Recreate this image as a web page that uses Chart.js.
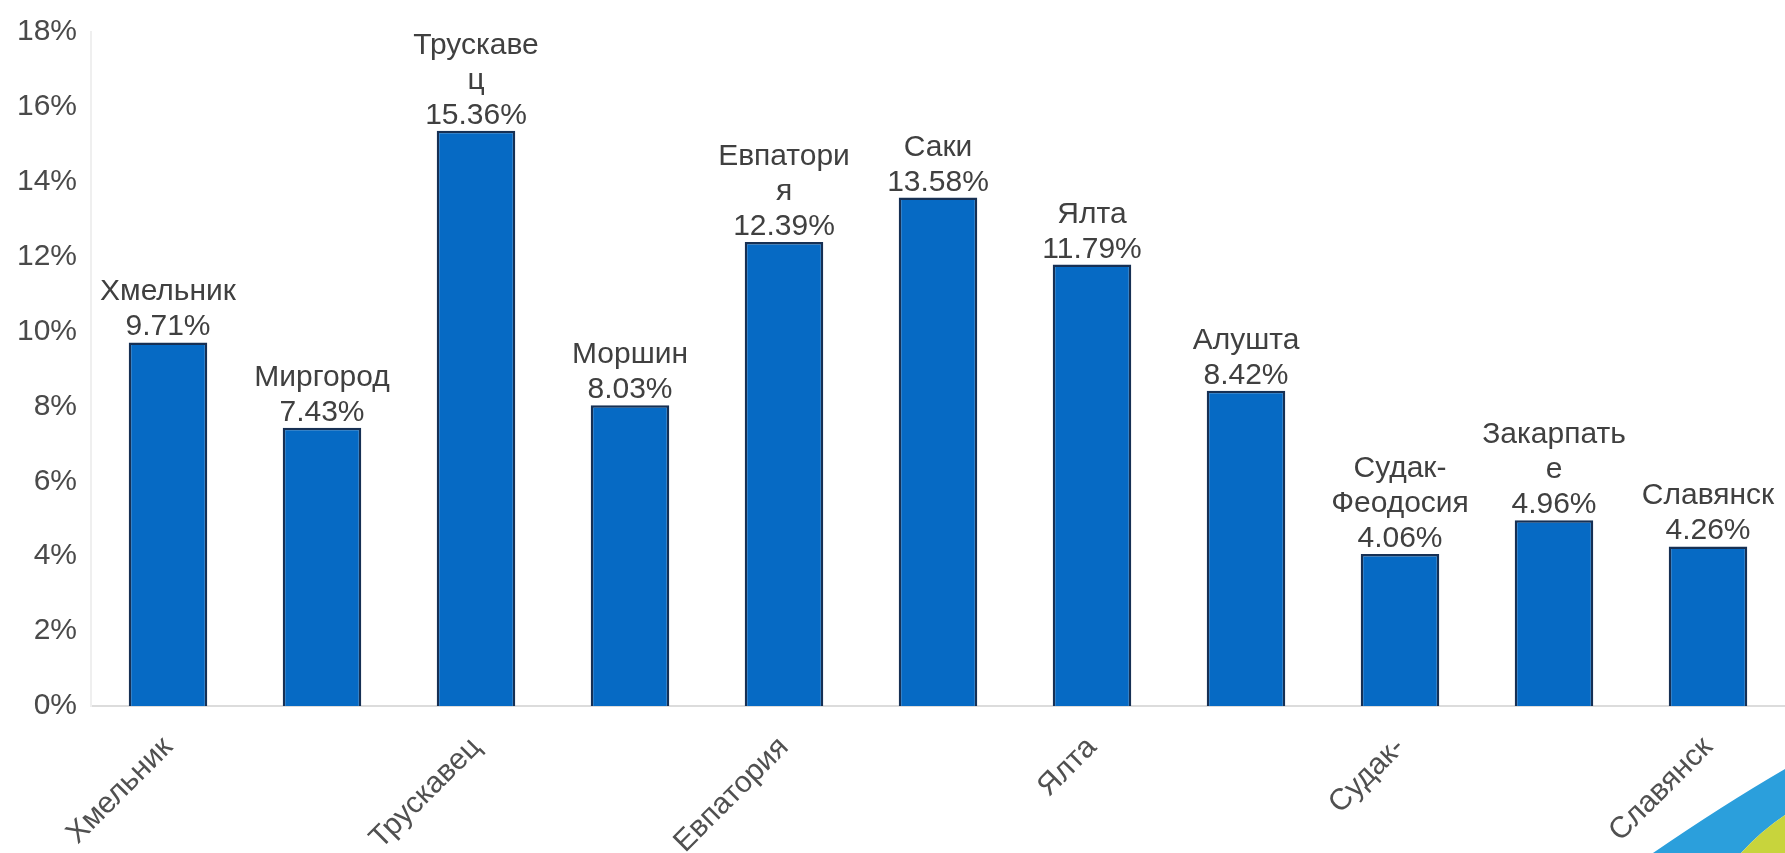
<!DOCTYPE html>
<html>
<head>
<meta charset="utf-8">
<script src="https://cdn.jsdelivr.net/npm/chart.js@4.4.1/dist/chart.umd.min.js"></script>
<style>
  body { margin:0; background:#fff; }
  canvas { display:block; }
</style>
</head>
<body>
<canvas id="resortChart" width="1785" height="853"></canvas>
<script>
// курорты и доли
const categories = ['Хмельник','Миргород','Трускавец','Моршин','Евпатория','Саки','Ялта','Алушта','Судак-Феодосия','Закарпатье','Славянск'];
const shares = [9.71, 7.43, 15.36, 8.03, 12.39, 13.58, 11.79, 8.42, 4.06, 4.96, 4.26];
// подписи оси X (каждая вторая)
const tickLabels = ['Хмельник','','Трускавец','','Евпатория','','Ялта','','Судак-','','Славянск'];
// подписи над столбцами (перенос как на картинке)
const barNameLines = [['Хмельник'],['Миргород'],['Трускаве','ц'],['Моршин'],['Евпатори','я'],['Саки'],['Ялта'],['Алушта'],['Судак-','Феодосия'],['Закарпать','е'],['Славянск']];
const yTicks = [0,2,4,6,8,10,12,14,16,18];

const FONT = "'Liberation Sans', Arial, sans-serif";

const barLabels = {
  id: 'barLabels',
  afterDatasetsDraw(chart) {
    const ctx = chart.ctx;
    const meta = chart.getDatasetMeta(0);
    ctx.save();
    ctx.font = '30px ' + FONT;
    ctx.fillStyle = '#404040';
    ctx.textAlign = 'center';
    ctx.textBaseline = 'alphabetic';
    meta.data.forEach((bar, i) => {
      const lines = barNameLines[i].concat([shares[i].toFixed(2) + '%']);
      let y = bar.y - 7;
      for (let k = lines.length - 1; k >= 0; k--) {
        ctx.fillText(lines[k], bar.x, y);
        y -= 35;
      }
    });
    ctx.restore();
  }
};

// полоска в правом нижнем углу (оформление слайда)
const cornerSwoosh = {
  id: 'cornerSwoosh',
  afterDraw(chart) {
    const ctx = chart.ctx;
    const W = chart.width, H = chart.height;
    ctx.save();
    ctx.beginPath();
    ctx.moveTo(W - 132, H);
    ctx.quadraticCurveTo(W - 62, H - 48, W, H - 84);
    ctx.lineTo(W, H - 38);
    ctx.quadraticCurveTo(W - 24, H - 22, W - 44, H);
    ctx.closePath();
    ctx.fillStyle = '#2b9fdc';
    ctx.fill();
    ctx.beginPath();
    ctx.moveTo(W - 44, H);
    ctx.quadraticCurveTo(W - 24, H - 22, W, H - 38);
    ctx.lineTo(W, H);
    ctx.closePath();
    ctx.fillStyle = '#c8d43c';
    ctx.fill();
    ctx.restore();
  }
};

new Chart(document.getElementById('resortChart'), {
  type: 'bar',
  data: {
    labels: categories,
    datasets: [{
      data: shares,
      backgroundColor: 'rgb(6,106,196)',
      borderColor: 'rgb(22,48,84)',
      borderWidth: 2.5,
      barPercentage: 0.51,
      categoryPercentage: 1.0
    }]
  },
  options: {
    responsive: false,
    devicePixelRatio: 1,
    animation: false,
    layout: { padding: { top: 24, right: 0, bottom: 0, left: 0 } },
    plugins: {
      legend: { display: false },
      tooltip: { enabled: false }
    },
    scales: {
      x: {
        grid: { display: false, drawTicks: false },
        border: { display: true, color: '#dcdcdc', width: 2 },
        ticks: {
          autoSkip: false,
          minRotation: 45,
          maxRotation: 45,
          padding: 24,
          color: '#505050',
          font: { family: FONT, size: 30 },
          callback: (v, i) => tickLabels[i]
        },
        afterFit: (scale) => { scale.height = 147; }
      },
      y: {
        min: 0,
        max: 18,
        grid: { display: false, drawTicks: false },
        border: { display: true, color: '#efefef', width: 2 },
        afterBuildTicks: (scale) => { scale.ticks = yTicks.map(v => ({ value: v })); },
        ticks: {
          padding: 14,
          color: '#4a4a4a',
          font: { family: FONT, size: 30 },
          callback: (v) => v + '%'
        },
        afterFit: (scale) => { scale.width = 91; }
      }
    }
  },
  plugins: [barLabels, cornerSwoosh]
});
</script>
</body>
</html>
